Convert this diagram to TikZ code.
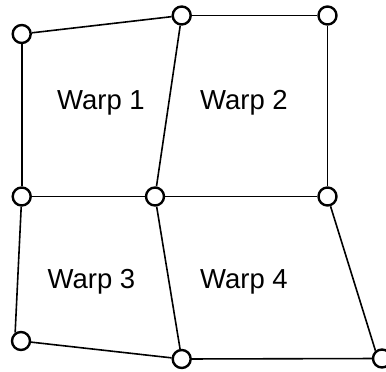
\documentclass[tikz,border=0pt]{standalone}
\usepackage{fontspec}
\setmainfont{Liberation Sans}
\usetikzlibrary{positioning}
\tikzset{
	vertex/.style={circle,draw=black,fill=white,line width=2.4pt,minimum size=18pt,inner sep=0pt},
	edge/.style={black,line width=1.6pt},
	warp/.style={font=\fontsize{27.5}{32}\selectfont}
}

\begin{document}
\begin{tikzpicture}[x=1pt,y=-1pt]
		\useasboundingbox (0,0) rectangle (386,372);

		% grid points
		\node[vertex] (tl) at (21.7,34) {};
		\node[vertex] (tm) at (181.7,15.5) {};
		\node[vertex] (tr) at (327.5,15.5) {};
		\node[vertex] (ml) at (21.7,196.5) {};
		\node[vertex] (c)  at (155,196.5) {};
		\node[vertex] (mr) at (327.5,196.5) {};
		\node[vertex] (bl) at (21,341) {};
		\node[vertex] (bm) at (181.7,359) {};
		\node[vertex] (br) at (382,358.5) {};

		% upper cells
		\draw[edge] (tl) -- (tm);
		\draw[edge] (tm) -- (tr);
		\draw[edge] (tl) -- (ml);
		\draw[edge] (tm) -- (c);
		\draw[edge] (tr) -- (mr);

		% middle row
		\draw[edge] (ml) -- (c);
		\draw[edge] (c) -- (mr);

		% lower cells
		\draw[edge] (ml) -- (bl.125);
		\draw[edge] (c) -- (bm);
		\draw[edge] (mr) -- (br.130);
		\draw[edge] (bl) -- (bm);
		\draw[edge] (bm) -- (br);

		% labels
		\node[warp] (w1) at (101,103) {Warp 1};
		\node[warp] (w2) at (244,103) {Warp 2};
		\node[warp] (w3) at (91.5,282) {Warp 3};
		\node[warp] (w4) at (244,282) {Warp 4};

	\end{tikzpicture}
\end{document}
